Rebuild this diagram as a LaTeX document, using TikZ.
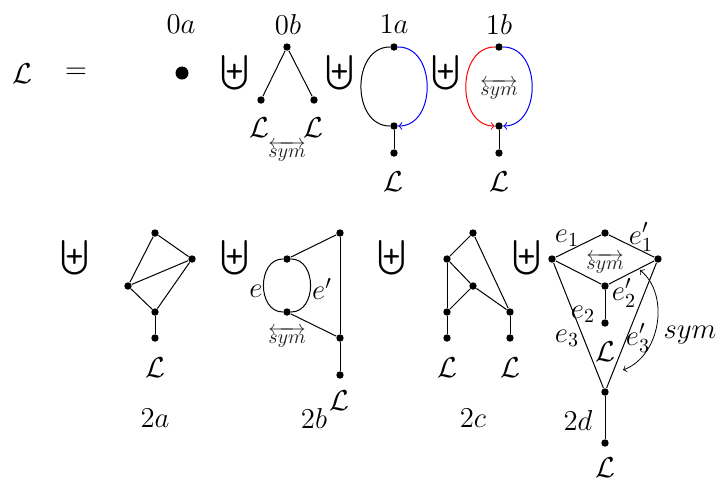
\documentclass[tikz,border=0pt]{standalone}
\usepackage{amsmath}
\begin{document}
\begin{tikzpicture}[x=0.5pt,y=-0.5pt,
  every node/.style={font=\fontsize{14}{17}\selectfont},
  dot/.style={circle,fill=black,inner sep=0pt,minimum size=3.7pt},
  bigdot/.style={circle,fill=black,inner sep=0pt,minimum size=6.5pt},
  uplus/.style={font=\fontsize{18.5}{21}\selectfont},
  smallsym/.style={font=\fontsize{9.8}{11}\selectfont,text=black!85,inner sep=0pt},
  lab/.style={inner sep=1pt},
  every path/.style={line width=0.5pt}]
\useasboundingbox (0,0) rectangle (719,484);

% ----- first row -----
\node (Lhs) at (22,74) {$\mathcal{L}$};
\node (eq) at (76,73) {$=$};

\node (l0a) at (181,24) {$0a$};
\node[bigdot] (n0a) at (182,73) {};
\node[uplus] (u1) at (235,73) {$\biguplus$};

\node (l0b) at (288,24) {$0b$};
\node[dot] (b0t) at (287,47) {};
\node[dot] (b0l) at (261,100) {};
\node[dot] (b0r) at (314,100) {};
\node (b0Ll) at (259,128) {$\mathcal{L}$};
\node (b0Lr) at (313,128) {$\mathcal{L}$};
\node[smallsym] (s0b) at (287,151) {$\overleftrightarrow{sym}$};
\draw (b0t) -- (b0l);
\draw (b0t) -- (b0r);

\node[uplus] (u2) at (340,73) {$\biguplus$};

\node (l1a) at (394,24) {$1a$};
\node[dot] (a1t) at (394,47) {};
\node[dot] (a1b) at (394,126) {};
\node[dot] (a1l) at (394,153) {};
\node (a1L) at (393,182) {$\mathcal{L}$};
\draw (a1t) to[out=180,in=180,looseness=1.25] (a1b);
\draw[blue,->] (a1t) to[out=0,in=0,looseness=1.25] (a1b);
\draw (a1b) -- (a1l);

\node[uplus] (u3) at (446,73) {$\biguplus$};

\node (l1b) at (499,24) {$1b$};
\node[dot] (b1t) at (499,47) {};
\node[dot] (b1b) at (499,126) {};
\node[dot] (b1l) at (499,153) {};
\node (b1L) at (499,182) {$\mathcal{L}$};
\node[smallsym] (s1b) at (499,89) {$\overleftrightarrow{sym}$};
\draw[red,->] (b1t) to[out=180,in=180,looseness=1.25] (b1b);
\draw[blue,->] (b1t) to[out=0,in=0,looseness=1.25] (b1b);
\draw (b1b) -- (b1l);

% ----- second row -----
\node[uplus] (u4) at (75,258) {$\biguplus$};

\node[dot] (a2t) at (155,233) {};
\node[dot] (a2r) at (192,259) {};
\node[dot] (a2l) at (128,286) {};
\node[dot] (a2b) at (155,312) {};
\node[dot] (a2f) at (155,338) {};
\node (a2L) at (155,368) {$\mathcal{L}$};
\node (l2a) at (155,418) {$2a$};
\draw (a2t) -- (a2r);
\draw (a2t) -- (a2l);
\draw (a2l) -- (a2r);
\draw (a2l) -- (a2b);
\draw (a2r) -- (a2b);
\draw (a2b) -- (a2f);

\node[uplus] (u5) at (235,258) {$\biguplus$};

\node[dot] (b2t) at (287,259) {};
\node[dot] (b2b) at (287,312) {};
\node[dot] (b2rt) at (340,233) {};
\node[dot] (b2rb) at (340,338) {};
\node[dot] (b2f) at (340,375) {};
\node (b2L) at (339,401) {$\mathcal{L}$};
\node (l2b) at (314,418) {$2b$};
\node (b2e) at (256,291) {$e$};
\node (b2ep) at (322,289) {$e'$};
\node[smallsym] (s2b) at (287,337) {$\overleftrightarrow{sym}$};
\draw (b2t) to[out=180,in=180,looseness=1.25] (b2b);
\draw (b2t) to[out=0,in=0,looseness=1.25] (b2b);
\draw (b2t) -- (b2rt);
\draw (b2b) -- (b2rb);
\draw (b2rt) -- (b2rb);
\draw (b2rb) -- (b2f);

\node[uplus] (u6) at (392,258) {$\biguplus$};

\node[dot] (c2t) at (473,233) {};
\node[dot] (c2ul) at (447,259) {};
\node[dot] (c2m) at (473,286) {};
\node[dot] (c2ll) at (447,312) {};
\node[dot] (c2r) at (510,312) {};
\node[dot] (c2fl) at (447,338) {};
\node[dot] (c2fr) at (510,338) {};
\node (c2Ll) at (447,368) {$\mathcal{L}$};
\node (c2Lr) at (510,368) {$\mathcal{L}$};
\node (l2c) at (473,418) {$2c$};
\draw (c2t) -- (c2ul);
\draw (c2t) -- (c2r);
\draw (c2ul) -- (c2m);
\draw (c2ul) -- (c2ll);
\draw (c2m) -- (c2ll);
\draw (c2m) -- (c2r);
\draw (c2ll) -- (c2fl);
\draw (c2r) -- (c2fr);

\node[uplus] (u7) at (527,258) {$\biguplus$};

\node[dot] (d2t) at (605,233) {};
\node[dot] (d2l) at (552,259) {};
\node[dot] (d2r) at (658,259) {};
\node[dot] (d2c) at (605,286) {};
\node[dot] (d2cf) at (605,323) {};
\node[dot] (d2b) at (605,392) {};
\node[dot] (d2f) at (605,443) {};
\node (d2cL) at (605,352) {$\mathcal{L}$};
\node (d2L) at (605,468) {$\mathcal{L}$};
\node (l2d) at (578,420) {$2d$};
\node[lab] (e1) at (567,238) {$e_1$};
\node[lab] (e1p) at (641,237) {$e_1'$};
\node[lab] (e2p) at (624,293) {$e_2'$};
\node[lab] (e2) at (583,314) {$e_2$};
\node[lab] (e3) at (567,338) {$e_3$};
\node[lab] (e3p) at (638,338) {$e_3'$};
\node[lab] (symd) at (690,335) {$sym$};
\node[smallsym] (s2d) at (605,263) {$\overleftrightarrow{sym}$};
\draw (d2t) -- (d2l);
\draw (d2t) -- (d2r);
\draw (d2l) -- (d2c);
\draw (d2r) -- (d2c);
\draw (d2c) -- (d2cf);
\draw (d2l) -- (d2b);
\draw (d2r) -- (d2b);
\draw (d2b) -- (d2f);
\coordinate (sa) at (640,270);
\coordinate (sb) at (623,370);
\draw[<->,line width=0.4pt] (sa) to[bend left=60] (sb);
\end{tikzpicture}
\end{document}
